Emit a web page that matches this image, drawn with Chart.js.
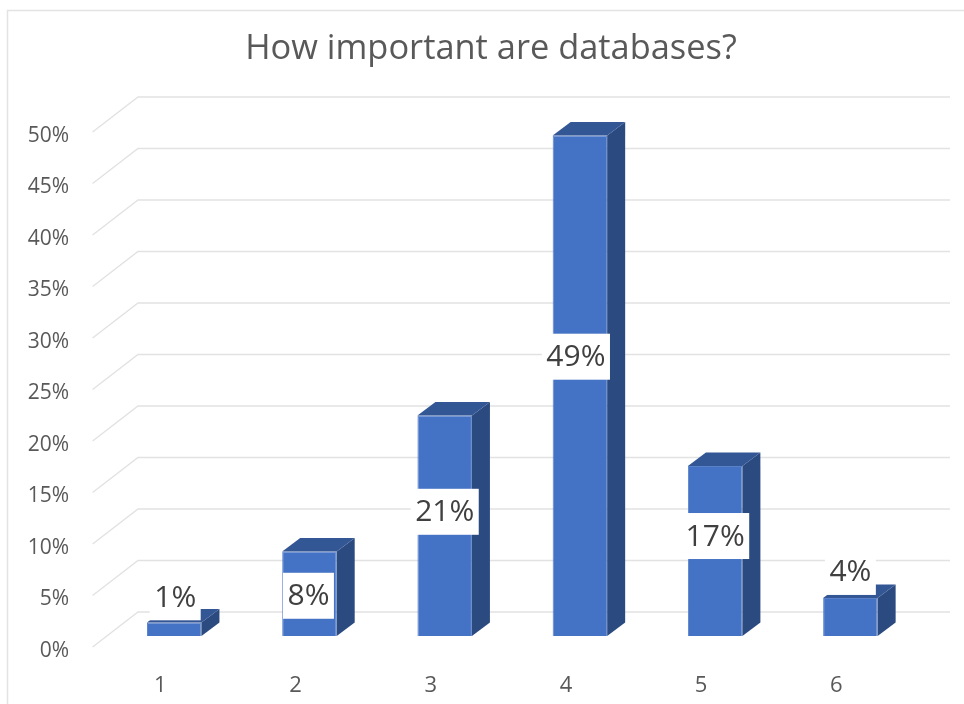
<!DOCTYPE html>
<html>
<head>
<meta charset="utf-8">
<style>html,body{margin:0;padding:0;background:#fff}canvas{display:block}</style>
<script src="https://cdn.jsdelivr.net/npm/chart.js@4"></script>
</head>
<body>
<canvas id="c" width="964" height="704"></canvas>
<script>
const categories = ['1', '2', '3', '4', '5', '6'];
const shares = [1.3, 8.2, 21.4, 48.6, 16.5, 3.7];
const shareLabels = ['1%', '8%', '21%', '49%', '17%', '4%'];
const labelShiftX = [1, -1, 0, -4, 0, 0];
const labelShiftY = [-33, 1, -15, -30, -16, -46];
const FONT = '"Open Sans", sans-serif';

const depth3d = {
  id: 'depth3d',
  beforeDraw(chart) {
    const c = chart.ctx;
    c.save();
    c.strokeStyle = '#e3e3e3';
    c.lineWidth = 1.5;
    c.beginPath();
    c.moveTo(7.5, chart.height);
    c.lineTo(7.5, 10.5);
    c.lineTo(chart.width, 10.5);
    c.stroke();
    c.restore();
  },
  beforeDatasetsDraw(chart) {
    const c = chart.ctx, ys = chart.scales.y, a = chart.chartArea;
    const frontX = a.left - 14, backX = a.left + 31.4, endX = a.right + 32;
    c.save();
    c.strokeStyle = '#e2e2e2';
    c.lineWidth = 1.4;
    ys.ticks.forEach(t => {
      const y = ys.getPixelForValue(t.value);
      c.beginPath();
      c.moveTo(frontX, y + 11);
      c.lineTo(backX, y - 24);
      c.lineTo(endX, y - 24);
      c.stroke();
    });
    c.restore();
  },
  afterDatasetsDraw(chart) {
    const c = chart.ctx, dx = 18, dy = 13.5;
    const bars = chart.getDatasetMeta(0).data;
    c.save();
    bars.forEach(b => {
      const l = b.x - b.width / 2, r = b.x + b.width / 2, t = b.y, z = b.base;
      c.fillStyle = '#2b4a80';
      c.beginPath();
      c.moveTo(r, t); c.lineTo(r + dx, t - dy); c.lineTo(r + dx, z - dy); c.lineTo(r, z);
      c.closePath(); c.fill();
      c.fillStyle = '#335694';
      c.beginPath();
      c.moveTo(l, t); c.lineTo(l + dx, t - dy); c.lineTo(r + dx, t - dy); c.lineTo(r, t);
      c.closePath(); c.fill();
    });
    c.font = '30px ' + FONT;
    c.textAlign = 'center';
    c.textBaseline = 'middle';
    bars.forEach((b, i) => {
      const x = b.x + labelShiftX[i];
      const y = (b.y + b.base) / 2 + labelShiftY[i];
      const w = c.measureText(shareLabels[i]).width + 9;
      c.fillStyle = '#ffffff';
      c.fillRect(x - w / 2, y - 22, w, 46);
      c.fillStyle = '#404040';
      c.fillText(shareLabels[i], x, y + 2);
    });
    c.restore();
  }
};

new Chart(document.getElementById('c'), {
  type: 'bar',
  data: {
    labels: categories,
    datasets: [{
      data: shares,
      backgroundColor: '#4472c4',
      borderColor: '#5a82cb',
      borderWidth: 1,
      categoryPercentage: 1,
      barPercentage: 0.403
    }]
  },
  plugins: [depth3d],
  options: {
    responsive: false,
    animation: false,
    events: [],
    layout: { padding: { left: 18, right: 0, top: 10, bottom: 0 } },
    plugins: {
      legend: { display: false },
      tooltip: { enabled: false },
      title: {
        display: true,
        text: 'How important are databases?',
        color: '#595959',
        font: { family: FONT, size: 34.4, weight: 'normal' },
        padding: { top: 18.4, bottom: 51.3 }
      }
    },
    scales: {
      x: {
        grid: { display: false, drawTicks: false },
        border: { display: false },
        ticks: { color: '#595959', font: { family: FONT, size: 22 }, padding: 37, labelOffset: -14, maxRotation: 0 },
        afterFit(s) { s.height = 68; s.paddingLeft = 0; s.paddingRight = 46; }
      },
      y: {
        min: 0,
        max: 50,
        grid: { display: false, drawTicks: false },
        border: { display: false },
        ticks: {
          stepSize: 5,
          color: '#595959',
          font: { family: FONT, size: 21 },
          padding: 37.6,
          labelOffset: 15,
          callback: v => v + '%'
        },
        afterFit(s) { s.width = 88.6; s.paddingTop = 0; s.paddingBottom = 0; }
      }
    }
  }
});
</script>
</body>
</html>
